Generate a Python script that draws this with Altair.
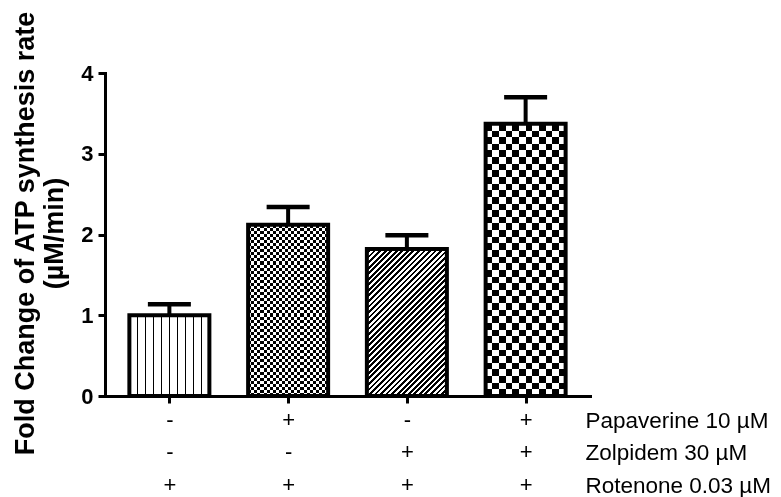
import math
import altair as alt
import pandas as pd

# ---- data ----
groups = [1, 2, 3, 4]
papaverine = ["-", "+", "-", "+"]
zolpidem = ["-", "-", "+", "+"]
rotenone = ["+", "+", "+", "+"]
row_names = ["Papaverine 10 µM", "Zolpidem 30 µM", "Rotenone 0.03 µM"]
means = [1.00, 2.12, 1.82, 3.37]
errors = [0.135, 0.22, 0.17, 0.33]
y_ticks = [0, 1, 2, 3, 4]

df = pd.DataFrame({"g": groups, "mean": means, "err": errors})
df["upper"] = df["mean"] + df["err"]

# ---- layout / style ----
W, H = 485, 323
YMAX = 4
BAR = 80
PPU = H / YMAX
FONT = "Liberation Sans"


def clamp(o):
    return max(0.0, min(1.0, round(o, 6)))


def grad(stops, x1, y1, x2, y2):
    return alt.LinearGradient(
        gradient="linear",
        stops=[alt.GradientStop(offset=clamp(o), color=c) for o, c in stops],
        x1=x1, y1=y1, x2=x2, y2=y2,
    )


def bands(n, first="white", second="black", frac_second=0.5):
    st = []
    for k in range(n):
        a = k / n
        b = (k + 1 - frac_second) / n
        e = (k + 1) / n
        st += [(a, first), (b, first), (b, second), (e, second)]
    return st


def cells(n, start_black=True):
    st = []
    for k in range(n):
        c = "black" if (k % 2 == 0) == start_black else "white"
        st += [(k / n, c), ((k + 1) / n, c)]
    return st


def thin_lines(n_int, lw, width):
    hw = lw / 2 / width
    st = [(0, "white")]
    for k in range(1, n_int + 1):
        c = k / (n_int + 1)
        st += [(c - hw, "white"), (c - hw, "black"), (c + hw, "black"), (c + hw, "white")]
    st.append((1, "white"))
    return st


label_expr = "[" + ",".join(
    "['%s','%s','%s']" % (p, z, r) for p, z, r in zip(papaverine, zolpidem, rotenone)
) + "][datum.value - 1]"

x_enc = alt.X(
    "g:Q",
    scale=alt.Scale(domain=[0.5, 4.5], nice=False, zero=False),
    axis=alt.Axis(
        values=groups, labelExpr=label_expr, labelFontSize=22, labelFont=FONT,
        labelLineHeight=32.5, labelPadding=6, labelBaseline="top", labelAngle=0,
        labelFlush=False, labelColor="black", labelOverlap=False,
        tickSize=7, tickWidth=3, tickColor="black",
        domainWidth=3, domainColor="black", domainCap="square", grid=False,
        title=row_names, titleFontSize=22.5, titleFont=FONT, titleFontWeight="normal",
        titleLineHeight=32.5, titleAlign="left", titleBaseline="top",
        titleX=480, titleY=13, titleColor="black",
    ),
)
y_axis = alt.Axis(
    values=y_ticks, format="d", labelFontSize=22, labelFontWeight="bold", labelFont=FONT,
    labelPadding=5, labelColor="black",
    tickSize=7, tickWidth=3, tickColor="black",
    domainWidth=3, domainColor="black", domainCap="square", grid=False,
    title=["Fold Change of ATP synthesis rate", "(µM/min)"], titleFontSize=27,
    titleFont=FONT, titleFontWeight="bold", titleLineHeight=29, titleColor="black",
    titleAlign="center", titleBaseline="top", titleAngle=270, titleX=-93, titleY=160,
)
y_enc = alt.Y("mean:Q", scale=alt.Scale(domain=[0, YMAX], nice=False), axis=y_axis)

base = alt.Chart(df).encode(x=x_enc, y=y_enc)

layers = []
for i, g in enumerate(groups):
    sub = base.transform_filter(alt.datum.g == g)
    h = means[i] * PPU
    if i == 0:  # vertical lines
        layers.append(sub.mark_bar(size=BAR, fill=grad(thin_lines(9, 1.7, BAR), 0, 0, 1, 0)))
    elif i in (1, 3):  # checkerboard
        cell = 3.08 if i == 1 else 6.67
        nx = round(BAR / cell)
        ny = max(1, round(h / cell))
        layers.append(sub.mark_bar(size=BAR, fill=grad(cells(nx), 0, 0, 1, 0)))
        layers.append(sub.mark_bar(size=BAR, fill=grad(cells(ny), 0, 0, 0, 1), blend="difference"))
    else:  # diagonal "/" stripes
        w = BAR
        k = (w + h) / (w * w + h * h)
        n = max(1, round((w + h) / math.sqrt(2) / 3.9))
        layers.append(sub.mark_bar(size=BAR, fill=grad(bands(n, "white", "black", 0.5), 0, 0, k * w, k * h)))

outline = base.mark_bar(size=BAR, fill="transparent", stroke="black", strokeWidth=4)
stem = base.mark_rule(color="black", strokeWidth=4).encode(y2="upper:Q")
cap = base.mark_tick(orient="horizontal", size=43, thickness=4.5, color="black", opacity=1).encode(
    y=alt.Y("upper:Q", scale=alt.Scale(domain=[0, YMAX], nice=False), axis=y_axis)
)

chart = (
    alt.layer(*layers, outline, stem, cap)
    .properties(
        width=W, height=H,
        padding={"left": 97, "top": 65, "right": 183, "bottom": 101},
        autosize=alt.AutoSizeParams(type="none"),
        background="white",
    )
    .configure_view(stroke=None)
)

chart.save("out.html", embed_options={"renderer": "svg", "actions": False})
